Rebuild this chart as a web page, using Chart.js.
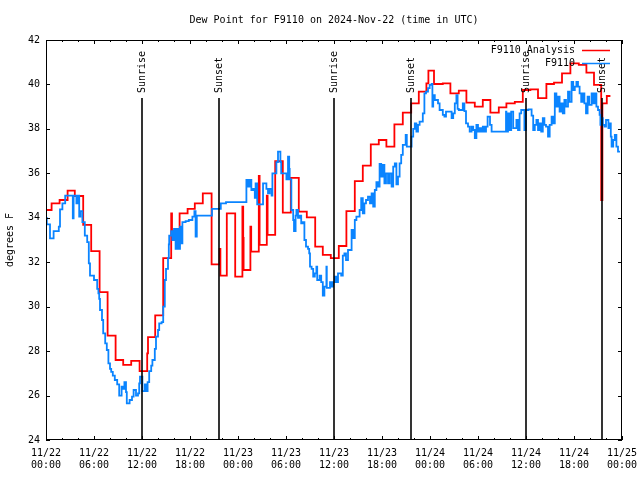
<!DOCTYPE html>
<html><head><meta charset="utf-8">
<script src="https://cdn.jsdelivr.net/npm/chart.js@4.4.0/dist/chart.umd.min.js"></script>
<style>html,body{margin:0;padding:0;background:#fff}#wrap{width:640px;height:480px}</style>
</head><body><div id="wrap"><canvas id="c" width="640" height="480"></canvas></div>
<script>
const titleText = 'Dew Point for F9110 on 2024-Nov-22 (time in UTC)';
const yAxisLabel = 'degrees F';
const seriesNames = ['F9110 Analysis', 'F9110'];
const xTickDates = ['11/22','11/22','11/22','11/22','11/23','11/23','11/23','11/23','11/24','11/24','11/24','11/24','11/25'];
const xTickTimes = ['00:00','06:00','12:00','18:00','00:00','06:00','12:00','18:00','00:00','06:00','12:00','18:00','00:00'];
const yTickValues = [24, 26, 28, 30, 32, 34, 36, 38, 40, 42];
// hours after 11/22 00:00 UTC
const sunTimes = [12.0, 21.6, 36.0, 45.6, 60.0, 69.5];
const sunLabels = ['Sunrise', 'Sunset', 'Sunrise', 'Sunset', 'Sunrise', 'Sunset'];

const analysisTimes = [0,0.7,1.7,2.7,3.6,4.65,5.65,6.7,7.7,8.7,9.65,10.65,11.7,12.65,12.75,13.65,14.65,15.65,15.75,16.7,17.7,18.6,19.6,20.7,21.7,21.8,22.6,23.65,24.55,24.65,24.7,25.55,25.65,26.6,26.7,27.6,27.7,28.65,29.6,30.6,31.6,32.6,33.65,34.6,35.6,36.6,37.55,38.6,39.6,40.6,41.6,42.55,43.55,44.6,45.65,46.6,47.55,47.8,48.5,49.6,50.55,51.6,52.55,53.6,54.6,55.55,56.6,57.55,58.6,59.6,60.55,61.5,62.55,63.5,64.5,65.55,66.6,67.55,68.5,69.4,69.55,70.1,70.55];
const analysisValues = [34.35,34.65,34.8,35.22,34.98,33.68,32.5,30.65,28.7,27.6,27.38,27.56,27.1,27.9,28.63,29.61,32.18,34.2,33.3,34.2,34.4,34.65,35.1,31.9,32.6,31.4,34.2,31.35,34.5,33.1,31.65,33.6,32.48,35.88,32.78,35.0,33.23,36.55,34.23,35.8,34.28,34.02,32.7,32.33,32.18,32.73,34.3,35.65,36.35,37.3,37.5,37.2,38.2,38.73,39.15,39.68,40.05,40.62,40.02,40.05,39.6,39.72,39.18,39.0,39.3,38.73,38.97,39.15,39.22,39.75,39.78,39.38,40.02,40.08,40.5,40.95,40.88,40.53,39.98,34.8,39.15,39.48,39.48];

const obsTimes = [0.0,0.1,0.5,0.95,1.6,1.75,2.05,2.4,3.35,3.45,3.8,3.95,4.15,4.3,4.55,4.85,5.15,5.35,5.5,6.0,6.4,6.55,6.65,6.75,7.0,7.15,7.4,7.6,7.8,8.0,8.15,8.35,8.6,8.9,9.15,9.45,9.65,9.8,10.0,10.1,10.45,10.75,10.95,11.25,11.5,11.65,11.75,12.05,12.35,12.5,12.7,12.9,13.15,13.3,13.6,13.75,14.0,14.15,14.45,14.65,14.85,15.0,15.25,15.35,15.4,15.65,15.8,16.0,16.2,16.4,16.55,16.75,16.95,17.05,17.45,17.85,18.3,18.55,18.7,18.85,20.75,21.85,22.5,25.05,25.25,25.46,25.67,25.9,26.1,26.2,26.4,27.13,27.55,27.75,27.96,28.2,28.3,28.8,29.0,29.3,29.4,30.05,30.25,30.4,30.46,30.67,30.9,31.0,31.2,31.3,31.5,31.7,31.9,32.1,32.3,32.5,32.75,32.9,33.0,33.2,33.4,33.6,33.8,33.9,34.2,34.4,34.6,34.8,35.05,35.1,35.5,35.7,35.9,36.1,36.3,36.5,36.9,37.1,37.3,37.5,37.75,38.2,38.4,38.6,38.8,39.2,39.4,39.6,39.8,40.0,40.25,40.5,40.7,40.9,41.1,41.3,41.5,41.7,41.9,42.1,42.3,42.5,42.75,42.96,43.2,43.4,43.6,43.8,44.0,44.2,44.4,44.6,44.96,45.1,45.7,45.9,46.1,46.3,46.5,46.7,47.1,47.3,47.5,47.75,47.96,48.2,48.3,48.4,48.6,49.0,49.2,49.6,49.8,50.0,50.7,50.9,51.1,51.3,51.45,51.6,52.1,52.3,52.5,52.75,52.96,53.2,53.4,53.6,53.8,54.0,54.2,54.4,54.6,54.8,55.0,55.2,55.5,55.7,57.5,57.55,57.75,57.95,58.15,58.4,58.8,59.0,59.2,59.4,59.8,60.0,60.3,60.7,60.9,61.1,61.3,61.5,61.7,61.9,62.1,62.3,62.5,62.75,62.96,63.2,63.4,63.6,63.8,64.0,64.2,64.4,64.6,64.8,65.0,65.25,65.45,65.7,65.9,66.1,66.3,66.5,66.7,66.9,67.1,67.3,67.5,67.7,67.9,68.2,68.4,68.6,68.8,69.0,69.2,69.3,69.4,69.6,69.8,70.0,70.3,70.5,70.6,70.7,70.9,71.1,71.3,71.5,71.75];
const obsValues = [34.0,33.7,33.07,33.4,33.6,34.38,34.65,35.0,33.97,35.0,34.65,35.0,34.05,34.3,33.8,33.2,32.9,31.95,31.4,31.2,30.8,30.6,30.35,29.85,29.4,28.8,28.35,28.05,27.45,27.2,27.07,26.9,26.7,26.5,26.0,26.4,26.3,26.6,26.15,25.65,25.8,25.95,26.25,26.0,26.1,26.55,26.85,26.2,26.5,26.2,26.6,27.1,27.35,27.6,28.1,28.65,28.95,29.25,29.3,30.0,31.2,31.7,32.2,32.8,33.2,33.4,33.0,33.5,32.6,33.5,32.6,33.6,32.85,33.8,33.85,33.9,34.05,34.3,33.15,34.1,34.4,34.65,34.7,35.7,35.4,35.7,35.25,35.3,34.9,35.55,34.6,35.55,35.3,35.1,35.3,35.0,36.0,36.5,36.98,36.5,36.0,35.73,36.75,36.2,35.73,34.35,33.9,33.4,34.1,34.35,34.0,34.1,33.75,33.8,33.0,32.7,32.6,32.4,31.8,31.7,31.35,31.5,31.8,31.2,31.4,31.1,30.5,30.9,31.8,30.85,31.1,30.9,31.1,31.35,31.1,31.5,31.4,32.3,32.4,32.1,32.55,33.45,33.08,33.9,34.05,34.35,34.88,34.2,34.65,34.8,34.95,34.65,35.1,34.5,35.25,35.6,35.4,36.42,35.85,36.38,35.55,36.0,35.55,36.0,35.4,36.3,36.45,35.5,35.85,36.45,36.83,37.28,37.73,37.2,37.65,38.0,38.25,37.88,38.18,38.33,38.7,39.6,39.68,39.83,39.98,40.02,39.0,39.52,39.3,39.15,38.85,38.63,38.55,38.78,38.48,38.7,39.15,39.52,38.9,38.85,39.15,38.8,38.25,38.1,37.88,38.1,37.95,37.58,38.18,37.88,38.03,37.88,38.1,37.88,38.1,38.55,38.18,37.88,38.78,37.88,38.7,37.95,38.78,38.03,38.4,37.95,38.7,38.85,37.95,38.85,38.88,38.6,37.95,38.18,38.4,37.95,38.25,37.88,38.48,38.18,38.1,37.65,38.18,38.55,38.25,39.6,39.0,39.45,38.78,39.15,38.7,39.3,39.0,39.68,39.22,40.12,39.75,39.9,40.12,39.9,39.6,39.22,39.6,39.15,38.7,39.45,39.08,39.6,39.15,39.6,39.0,38.85,38.63,38.18,38.48,38.18,38.1,38.4,38.03,38.25,37.65,37.2,37.5,37.73,37.2,36.98,36.98];

const FONT = 'DejaVu Sans Mono';
const RED = '#ff0000';
const BLUE = '#0a84ff';

const toPts = (ts, vs) => ts.map((t, i) => ({ x: t, y: vs[i] }));

const overlay = {
  id: 'overlay',
  afterDraw(chart) {
    const ctx = chart.ctx, a = chart.chartArea;
    const xs = chart.scales.x, ys = chart.scales.y;
    ctx.save();
    ctx.strokeStyle = '#000'; ctx.lineWidth = 1;
    ctx.strokeRect(Math.round(a.left) + 0.5, Math.round(a.top) + 0.5, Math.round(a.right - a.left) - 1, Math.round(a.bottom - a.top) - 1);
    ctx.beginPath();
    for (let t = 0; t <= 72; t += 2) {
      const px = Math.round(xs.getPixelForValue(t)) + 0.5;
      const len = (t % 6 === 0) ? 4 : 2;
      ctx.moveTo(px, a.bottom); ctx.lineTo(px, a.bottom - len);
      ctx.moveTo(px, a.top); ctx.lineTo(px, a.top + len);
    }
    yTickValues.forEach(v => {
      const py = Math.round(ys.getPixelForValue(v)) + 0.5;
      ctx.moveTo(a.left, py); ctx.lineTo(a.left + 4, py);
      ctx.moveTo(a.right, py); ctx.lineTo(a.right - 4, py);
    });
    ctx.stroke();
    ctx.font = '10px "' + FONT + '"';
    ctx.fillStyle = '#000';
    sunTimes.forEach((t, i) => {
      const px = Math.round(xs.getPixelForValue(t));
      ctx.lineWidth = 1.6;
      ctx.beginPath();
      ctx.moveTo(px, 98); ctx.lineTo(px, a.bottom);
      ctx.stroke();
      ctx.save();
      ctx.translate(px + 0.5, 93);
      ctx.rotate(-Math.PI / 2);
      ctx.textAlign = 'left'; ctx.textBaseline = 'middle';
      ctx.fillText(sunLabels[i], 0, 0);
      ctx.restore();
    });
    const ds = chart.data.datasets;
    [0, 1].forEach((k, row) => {
      const y = 50 + row * 13;
      ctx.textAlign = 'right'; ctx.textBaseline = 'middle';
      ctx.fillStyle = '#000';
      ctx.fillText(ds[k].label, 575, y);
      ctx.strokeStyle = ds[k].borderColor; ctx.lineWidth = 1.5;
      ctx.beginPath(); ctx.moveTo(582, y + 0.5); ctx.lineTo(610, y + 0.5); ctx.stroke();
    });
    ctx.fillStyle = '#000';
    ctx.textAlign = 'center'; ctx.textBaseline = 'middle';
    ctx.fillText(titleText, (a.left + a.right) / 2, 20);
    ctx.save();
    ctx.translate(10, (a.top + a.bottom) / 2);
    ctx.rotate(-Math.PI / 2);
    ctx.fillText(yAxisLabel, 0, 0);
    ctx.restore();
    ctx.restore();
  }
};

new Chart(document.getElementById('c'), {
  type: 'line',
  data: {
    datasets: [
      { label: seriesNames[0], data: toPts(analysisTimes, analysisValues), stepped: 'before', borderColor: RED, borderWidth: 1.8, pointRadius: 0, fill: false, order: 2 },
      { label: seriesNames[1], data: toPts(obsTimes, obsValues), stepped: 'before', borderColor: BLUE, borderWidth: 1.8, pointRadius: 0, fill: false, order: 1 }
    ]
  },
  options: {
    responsive: false, animation: false, devicePixelRatio: 1,
    layout: { padding: { left: 0, right: 18, top: 40, bottom: 0 } },
    plugins: { legend: { display: false }, tooltip: { enabled: false }, title: { display: false } },
    scales: {
      x: {
        type: 'linear', min: 0, max: 72,
        afterFit: s => { s.height = 40; s.paddingLeft = 0; s.paddingRight = 0; },
        grid: { display: false, drawTicks: false },
        border: { display: false },
        ticks: {
          stepSize: 6, autoSkip: false, maxRotation: 0, padding: 7, color: '#000',
          font: { family: FONT, size: 10 },
          callback: v => { const i = Math.round(v / 6); return [xTickDates[i], xTickTimes[i]]; }
        }
      },
      y: {
        min: 24, max: 42,
        afterFit: s => { s.width = 46; s.paddingTop = 0; s.paddingBottom = 0; },
        grid: { display: false, drawTicks: false },
        border: { display: false },
        ticks: { stepSize: 2, padding: 6, color: '#000', font: { family: FONT, size: 10 } }
      }
    }
  },
  plugins: [overlay]
});
</script></body></html>
